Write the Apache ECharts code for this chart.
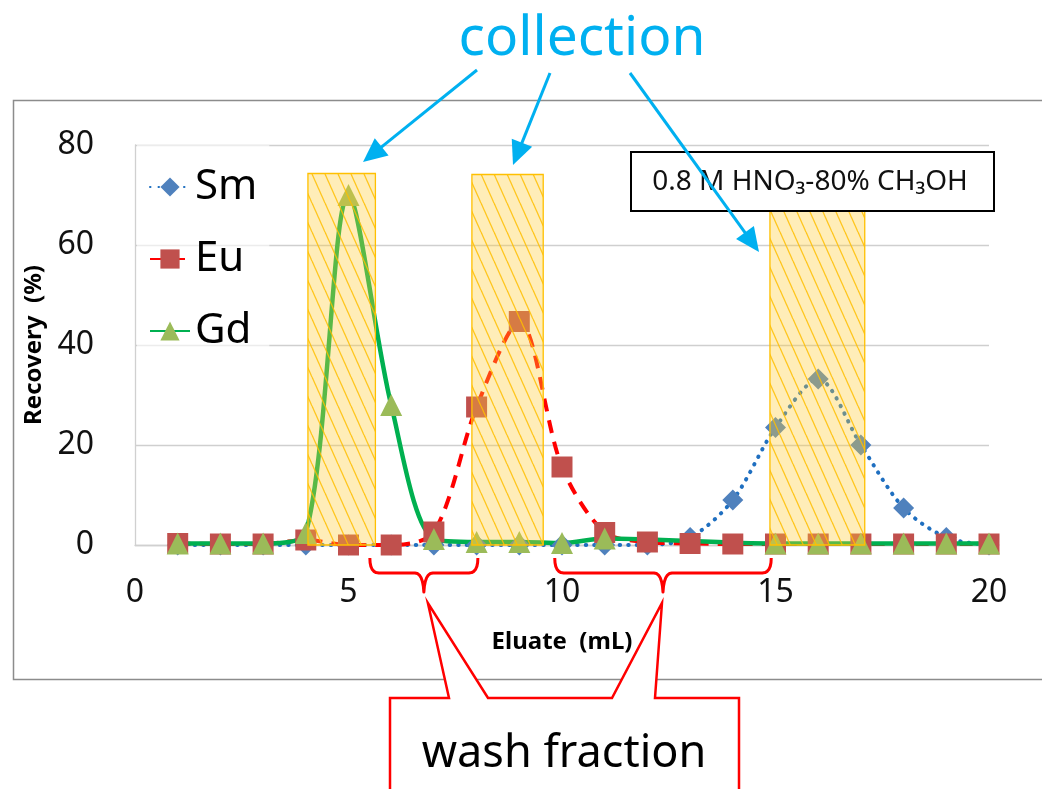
<!DOCTYPE html>
<html>
<head>
<meta charset="utf-8">
<script src="https://cdn.jsdelivr.net/npm/echarts/dist/echarts.min.js"></script>
<style>
html,body{margin:0;padding:0;background:#ffffff;}
#chart{width:1042px;height:789px;}
</style>
</head>
<body>
<div id="chart"></div>
<script>
// ---------------- data ----------------
const eluate = [1,2,3,4,5,6,7,8,9,10,11,12,13,14,15,16,17,18,19,20];
const sm = [0,0,0,0,0,0,0,0,0,0,0,0,1.5,9,23.5,33.2,20,7.4,1.5,0];
const eu = [0.3,0.2,0.2,1,0,0,2.6,27.6,44.7,15.6,2.5,0.6,0.3,0.2,0.2,0.2,0.2,0.2,0.2,0.2];
const gdEluate = [1,2,3,4,5,6,7,8,9,10,11,15,16,17,18,19,20];
const gd = [0.3,0.3,0.3,2.4,70,28,1.2,0.6,0.6,0.4,1.3,0.3,0.3,0.3,0.3,0.3,0.3];
// collection fractions (eluate range, bar height in %)
const collectStart = [4.05, 7.89, 14.87];
const collectEnd = [5.63, 9.56, 17.09];
const collectTop = [74.3, 74.1, 74.2];
// wash fractions (eluate ranges marked with braces)
const washStart = [5.5, 9.83];
const washEnd = [8.03, 14.9];
// axes
const xMin = 0, xMax = 20, xStep = 5;
const yMin = 0, yMax = 80, yStep = 20;
const legendNames = ['Sm', 'Eu', 'Gd'];
const eluentLabel = '0.8 M HNO\u2083-80% CH\u2083OH';

// ---------------- hatch pattern ----------------
function makeHatch() {
  const w = 13, h = 29;
  const c = document.createElement('canvas');
  c.width = w; c.height = h;
  const ctx = c.getContext('2d');
  ctx.fillStyle = 'rgba(255,204,51,0.35)';
  ctx.fillRect(0, 0, w, h);
  ctx.strokeStyle = 'rgba(255,190,0,0.85)';
  ctx.lineWidth = 1.3;
  for (const off of [-w, 0, w]) {
    ctx.beginPath();
    ctx.moveTo(off, 0);
    ctx.lineTo(off + w, h);
    ctx.stroke();
  }
  return c;
}
const hatch = { image: makeHatch(), repeat: 'repeat' };

const FONT = 'Noto Sans';
const chart = echarts.init(document.getElementById('chart'), null, { renderer: 'canvas' });

chart.setOption({
  animation: false,
  backgroundColor: '#ffffff',
  grid: { left: 135, right: 53, top: 145, bottom: 244, outerBoundsMode: 'none', containLabel: false },
  legend: {
    data: legendNames,
    orient: 'vertical',
    left: 137, top: 145,
    padding: [21, 12, 2, 12],
    itemGap: 30,
    itemWidth: 40, itemHeight: 24,
    backgroundColor: 'rgba(255,255,255,0.6)',
    textStyle: { fontFamily: FONT, fontSize: 42, color: '#000' },
    selectedMode: false
  },
  xAxis: {
    type: 'value', min: xMin, max: xMax, interval: xStep,
    name: 'Eluate  (mL)', nameLocation: 'middle', nameGap: 85,
    nameTextStyle: { fontFamily: FONT, fontSize: 24, fontWeight: 'bold', color: '#000' },
    axisLine: { show: true, onZero: false, lineStyle: { color: '#D0D0D0', width: 1.3 } },
    axisTick: { show: false },
    splitLine: { show: false },
    axisLabel: { fontFamily: FONT, fontSize: 32, color: '#111', margin: 32 }
  },
  yAxis: {
    type: 'value', min: yMin, max: yMax, interval: yStep,
    name: 'Recovery  (%)', nameLocation: 'middle', nameGap: 82,
    nameTextStyle: { fontFamily: FONT, fontSize: 24, fontWeight: 'bold', color: '#000' },
    axisLine: { show: true, lineStyle: { color: '#D0D0D0', width: 1.3 } },
    axisTick: { show: false },
    splitLine: { show: true, lineStyle: { color: '#CFCFCF', width: 1.3 } },
    axisLabel: { fontFamily: FONT, fontSize: 32, color: '#111', margin: 41 }
  },
  series: [
    {
      name: 'Sm', type: 'line', z: 2,
      data: eluate.map((x, i) => [x, sm[i]]),
      smooth: 0.3, symbol: 'diamond', symbolSize: 21, showAllSymbol: true,
      itemStyle: { color: '#4F81BD' },
      lineStyle: { color: '#1F6FC0', width: 4, type: [0.5, 8], cap: 'round' }
    },
    {
      name: 'Eu', type: 'line', z: 2,
      data: eluate.map((x, i) => [x, eu[i]]),
      smooth: 0.3, symbol: 'rect', symbolSize: 21, showAllSymbol: true,
      itemStyle: { color: '#C0504D' },
      lineStyle: { color: '#FF0000', width: 4, type: [13, 9] }
    },
    {
      name: 'Gd', type: 'line', z: 2,
      data: gdEluate.map((x, i) => [x, gd[i]]),
      smooth: 0.3, symbol: 'triangle', symbolSize: 22, showAllSymbol: true,
      itemStyle: { color: '#9BBB59' },
      lineStyle: { color: '#00B050', width: 4.5, type: 'solid' }
    },
    {
      name: 'collection', type: 'custom', z: 3,
      data: collectStart.map((s, i) => [s, collectEnd[i], collectTop[i]]),
      encode: { x: [0, 1], y: 2 },
      renderItem: function (params, api) {
        const a = api.coord([api.value(0), api.value(2)]);
        const b = api.coord([api.value(1), 0]);
        return {
          type: 'rect',
          shape: { x: a[0], y: a[1], width: b[0] - a[0], height: b[1] - a[1] },
          style: { fill: hatch, stroke: '#FFC000', lineWidth: 1.3 }
        };
      }
    }
  ]
});

// ---------------- annotations ----------------
function px(x, y) { return chart.convertToPixel({ gridIndex: 0 }, [x, y]); }

function arrow(x1, y1, x2, y2) {
  const len = 24, hw = 11;
  const dx = x2 - x1, dy = y2 - y1, L = Math.hypot(dx, dy), ux = dx / L, uy = dy / L;
  const bx = x2 - ux * len, by = y2 - uy * len;
  return [
    { type: 'line', z: 60, shape: { x1: x1, y1: y1, x2: bx + ux * 2, y2: by + uy * 2 }, style: { stroke: '#00B0F0', lineWidth: 3 } },
    { type: 'polygon', z: 60, shape: { points: [[x2, y2], [bx - uy * hw, by + ux * hw], [bx + uy * hw, by - ux * hw]] }, style: { fill: '#00B0F0' } }
  ];
}

function quad(p0, p1, p2, n) {
  const pts = [];
  for (let k = 1; k <= n; k++) {
    const t = k / n, u = 1 - t;
    pts.push([u * u * p0[0] + 2 * u * t * p1[0] + t * t * p2[0], u * u * p0[1] + 2 * u * t * p1[1] + t * t * p2[1]]);
  }
  return pts;
}

function brace(xs, xe) {
  const x0 = px(xs, 0)[0], x1 = px(xe, 0)[0];
  const top = 558, mid = 573, tip = 592, m = (x0 + x1) / 2;
  let pts = [[x0, top]];
  pts = pts.concat(quad([x0, top], [x0, mid], [x0 + 9, mid], 6));
  pts.push([m - 9, mid]);
  pts = pts.concat(quad([m - 9, mid], [m - 1, mid], [m, tip], 6));
  pts = pts.concat(quad([m, tip], [m + 1, mid], [m + 9, mid], 6));
  pts.push([x1 - 9, mid]);
  pts = pts.concat(quad([x1 - 9, mid], [x1, mid], [x1, top], 6));
  return { type: 'polyline', z: 50, shape: { points: pts }, style: { stroke: '#FF0000', lineWidth: 3, fill: null, lineJoin: 'round' } };
}

const b1 = (px(washStart[0], 0)[0] + px(washEnd[0], 0)[0]) / 2;
const b2 = (px(washStart[1], 0)[0] + px(washEnd[1], 0)[0]) / 2;

const graphics = [
  { type: 'rect', z: 0, shape: { x: 13.5, y: 100.5, width: 1100, height: 579 }, style: { stroke: '#8C8C8C', lineWidth: 1.5, fill: null } },
  { type: 'rect', z: 50, shape: { x: 631, y: 152, width: 363, height: 59 }, style: { stroke: '#000', lineWidth: 2, fill: '#fff' } },
  { type: 'text', z: 51, x: 810, y: 182, style: { text: eluentLabel, fontFamily: FONT, fontSize: 28, fill: '#111', align: 'center', verticalAlign: 'middle' } },
  { type: 'text', z: 60, x: 582, y: 39, style: { text: 'collection', fontFamily: FONT, fontSize: 55, fill: '#00B0F0', align: 'center', verticalAlign: 'middle' } },
  brace(washStart[0], washEnd[0]),
  brace(washStart[1], washEnd[1]),
  {
    type: 'polygon', z: 55,
    shape: { points: [[390, 800], [390, 698], [449, 698], [b1 + 4, 603], [488, 698], [612, 698], [b2 - 1, 603], [655, 698], [739, 698], [739, 800]] },
    style: { stroke: '#FF0000', lineWidth: 2.5, fill: '#ffffff', lineJoin: 'miter' }
  },
  { type: 'text', z: 56, x: 564, y: 754, style: { text: 'wash fraction', fontFamily: FONT, fontSize: 45, fill: '#000', align: 'center', verticalAlign: 'middle' } }
]
  .concat(arrow(477, 70, 363, 162))
  .concat(arrow(550, 73, 513, 165))
  .concat(arrow(630, 73, 759, 252));

chart.setOption({ graphic: graphics });
</script>
</body>
</html>
